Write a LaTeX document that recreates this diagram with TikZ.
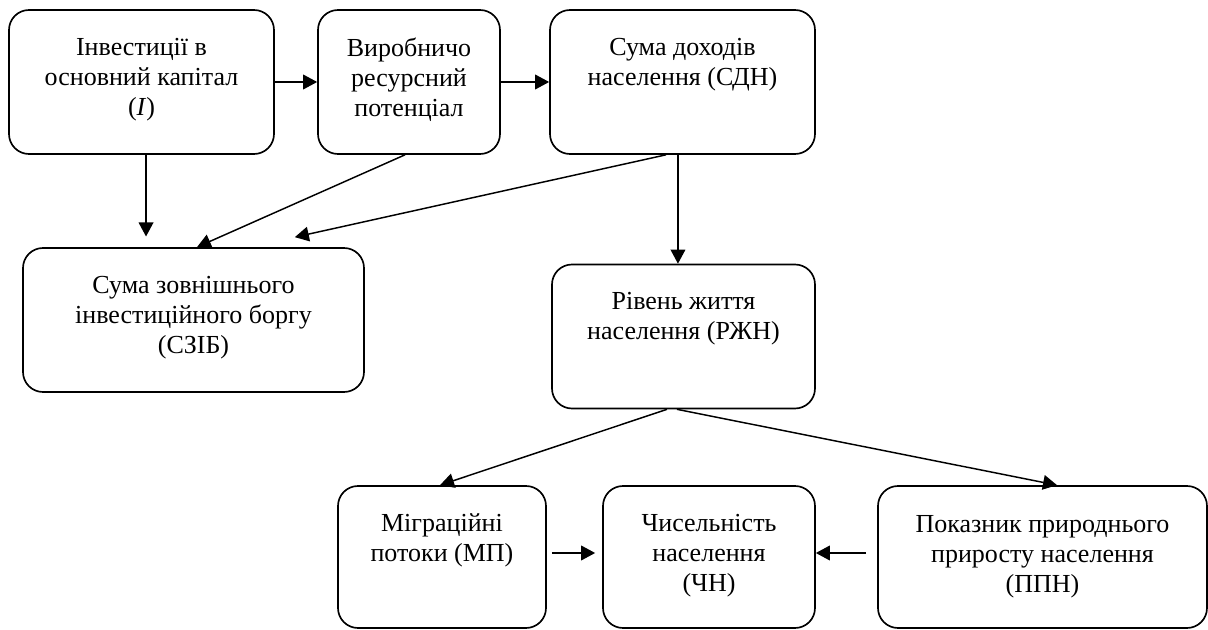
\documentclass[tikz,border=0pt]{standalone}
\usepackage{fontspec}
\setmainfont{Liberation Serif}
\usetikzlibrary{arrows.meta,positioning}

\tikzset{
  blok/.style={draw, line width=1.25pt, rounded corners=15pt, minimum height=108pt, inner sep=0pt},
  napys/.style={align=center, inner sep=0pt, font=\fontsize{19.5}{22.5}\selectfont},
  strilka/.style={line width=1.1pt, -{Triangle[length=10.5pt,width=11pt]}}
}

\begin{document}
\begin{tikzpicture}[x=0.75pt, y=-0.75pt]
  \useasboundingbox (0,0) rectangle (1208,630);

  \node[blok, minimum width=198.75pt] (inv) at (141.5, 82) {};
  \node[blok, minimum width=136.5pt] (vrp) at (409, 82) {};
  \node[blok, minimum width=198.75pt] (sdn) at (682.5, 82) {};
  \node[blok, minimum width=255.75pt] (szib) at (193.5, 320) {};
  \node[blok, minimum width=197.25pt] (rzhn) at (683.5, 336.5) {};
  \node[blok, minimum width=156pt, minimum height=106.5pt] (mp) at (442, 557) {};
  \node[blok, minimum width=159pt, minimum height=106.5pt] (chn) at (709, 557) {};
  \node[blok, minimum width=246.75pt, minimum height=106.5pt] (ppn) at (1042.5, 557) {};

  \node[napys, below=21.5pt of inv.north] (inv-t) {Інвестиції в\\основний капітал\\(\textit{I})};
  \node[napys, below=21.5pt of vrp.north] (vrp-t) {Виробничо\\ресурсний\\потенціал};
  \node[napys, below=21.5pt of sdn.north] (sdn-t) {Сума доходів\\населення (СДН)};
  \node[napys, below=21.5pt of szib.north] (szib-t) {Сума зовнішнього\\інвестиційного боргу\\(СЗІБ)};
  \node[napys, below=21.5pt of rzhn.north] (rzhn-t) {Рівень життя\\населення (РЖН)};
  \node[napys, below=21.5pt of mp.north] (mp-t) {Міграційні\\потоки (МП)};
  \node[napys, below=21.5pt of chn.north] (chn-t) {Чисельність\\населення\\(ЧН)};
  \node[napys, below=22.3pt of ppn.north] (ppn-t) {Показник природнього\\приросту населення\\(ППН)};

  \draw[strilka] (inv.east) -- (vrp.west);
  \draw[strilka] (vrp.east) -- (sdn.west);
  \draw[strilka] ([xshift=3.4pt]inv.south) -- ([xshift=3.4pt,yshift=8pt]inv.south |- szib.north);
  \draw[strilka] ([xshift=-3pt]vrp.south) -- ([xshift=2.6pt]szib.north);
  \draw[strilka] ([xshift=-12.4pt]sdn.south) -- ([xshift=76pt,yshift=7.5pt]szib.north);
  \draw[strilka] ([xshift=-3.4pt]sdn.south) -- ([xshift=-3.4pt]sdn.south |- rzhn.north);
  \draw[strilka] ([xshift=-12.4pt]rzhn.south) -- ([xshift=-1.5pt]mp.north);
  \draw[strilka] ([xshift=-4.9pt]rzhn.south) -- ([xshift=10.9pt]ppn.north);
  \draw[strilka] ([xshift=3.75pt,yshift=3pt]mp.east) -- ([xshift=-5.25pt,yshift=3pt]chn.west);
  \draw[strilka] ([xshift=-8.25pt,yshift=3pt]ppn.west) -- ([yshift=3pt]chn.east);
\end{tikzpicture}
\end{document}
